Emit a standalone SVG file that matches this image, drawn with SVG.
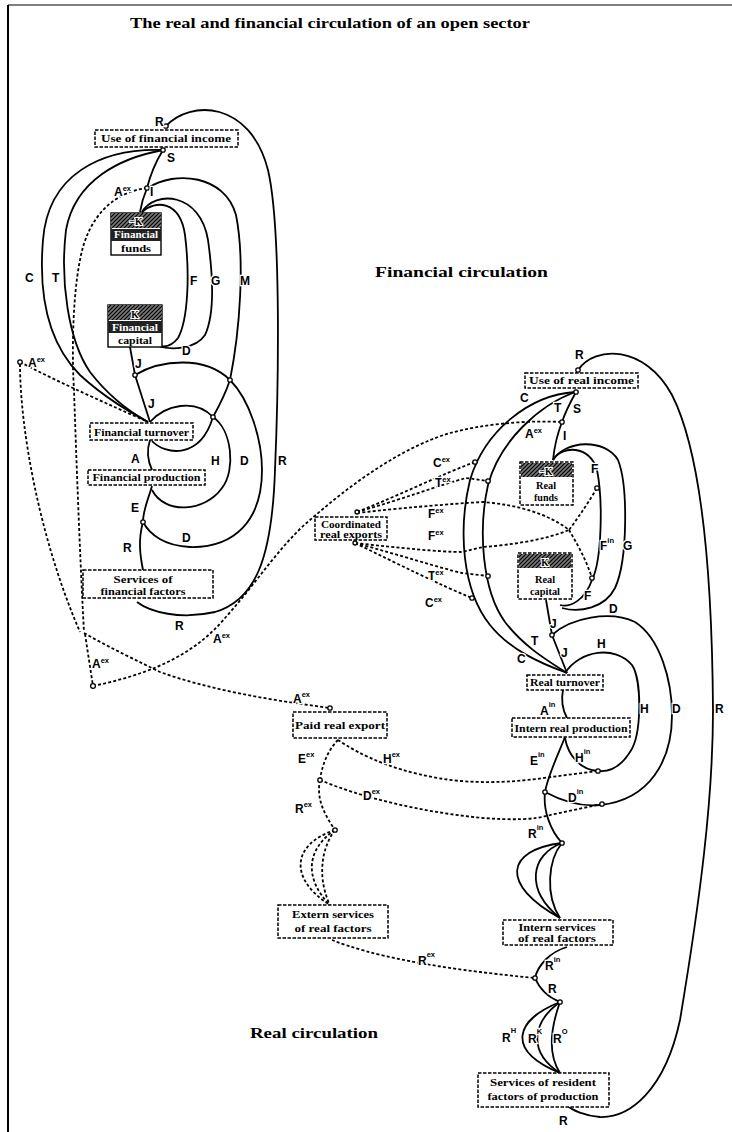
<svg xmlns="http://www.w3.org/2000/svg" width="732" height="1132" viewBox="0 0 732 1132">
<defs>
<pattern id="hatch" width="4" height="4" patternUnits="userSpaceOnUse">
<rect width="4" height="4" fill="#777"/>
<path d="M0,4 L4,0 M-1,1 L1,-1 M3,5 L5,3" stroke="#000" stroke-width="1.2"/>
</pattern>
<style>
.ln{fill:none;stroke:#000;stroke-width:1.8}
.dl{fill:none;stroke:#000;stroke-width:1.8;stroke-dasharray:3 2.2}
.box{fill:#fff;stroke:#000;stroke-width:1.5;stroke-dasharray:3.5 1.5}
.bt{font-family:"Liberation Serif",serif;font-weight:bold;font-size:9.5px;text-anchor:middle}
.wt{fill:#fff}
.lb{font-family:"Liberation Sans",sans-serif;font-weight:bold;font-size:12px;paint-order:stroke;stroke:#fff;stroke-width:2.5}
.sp{font-size:7.5px}
.jn{fill:#fff;stroke:#000;stroke-width:1.3}
.ttl{font-family:"Liberation Serif",serif;font-weight:bold}
</style>
</defs>
<rect width="732" height="1132" fill="#fff"/>
<!-- frame -->
<line x1="8" y1="5" x2="8" y2="1132" stroke="#000" stroke-width="2"/>
<line x1="8" y1="5" x2="732" y2="5" stroke="#000" stroke-width="1"/>
<!-- titles -->
<text class="ttl" x="130" y="28" font-size="15" textLength="400" lengthAdjust="spacingAndGlyphs">The real and financial circulation of an open sector</text>
<text class="ttl" x="375" y="277" font-size="14" textLength="173" lengthAdjust="spacingAndGlyphs">Financial circulation</text>
<text class="ttl" x="250" y="1038" font-size="15" textLength="128" lengthAdjust="spacingAndGlyphs">Real circulation</text>

<g id="connectors">
<!-- financial solid -->
<path class="ln" d="M166,126 C190,100 250,100 268,170 C282,230 278,400 275,470 C272,560 255,600 215,612 C180,620 150,612 137,602"/>
<path class="ln" d="M163,150 Q152,168 147,188 Q142,200 140,212"/>
<path class="ln" d="M163,150 C100,148 48,175 43,240 C38,300 50,345 80,375 C105,398 130,412 148,422"/>
<path class="ln" d="M163,150 C120,158 75,180 66,230 C60,280 68,340 90,372 C110,398 130,412 148,422"/>
<path class="ln" d="M148,188 C175,170 225,175 236,215 C245,260 240,330 230,380"/>
<path class="ln" d="M142,212 C155,190 200,192 208,240 C215,290 212,320 205,335 C195,350 170,350 158,346"/>
<path class="ln" d="M142,212 C155,200 180,200 185,235 C190,275 188,320 178,338 C172,346 165,347 160,346"/>
<path class="ln" d="M130,347 L135,375 L150,422"/>
<path class="ln" d="M135,375 C160,360 205,355 230,380"/>
<path class="ln" d="M230,380 C225,395 218,408 213,417"/>
<path class="ln" d="M150,422 C165,405 195,398 213,417"/>
<path class="ln" d="M152,441 C165,455 200,460 213,417"/>
<path class="ln" d="M213,417 C232,430 236,470 222,488 C205,512 165,515 152,490"/>
<path class="ln" d="M150,440 Q145,455 152,470"/>
<path class="ln" d="M152,486 C148,500 143,510 143,522"/>
<path class="ln" d="M143,522 C138,540 140,555 143,570"/>
<path class="ln" d="M230,380 C250,400 262,440 262,470 C262,520 235,548 190,547 C165,546 150,535 143,522"/>
<!-- financial dashed -->
<path class="dl" d="M147,188 C115,192 88,215 80,260 C72,300 72,360 74,390 C76,450 80,560 84,632"/>
<path class="dl" d="M20,362 C60,383 110,405 148,422"/>
<path class="dl" d="M20,364 C20,430 40,540 80,632"/>
<path class="dl" d="M84,633 C110,648 140,662 160,672 C210,690 270,700 330,708"/>
<path class="dl" d="M85,634 L93,686"/>
<path class="dl" d="M93,686 C140,676 190,660 225,618 C255,585 280,545 310,520 C350,485 400,448 450,433 C480,425 520,420 562,422"/>
<!-- real solid -->
<path class="ln" d="M578,370 C595,345 645,345 672,395 C700,450 712,560 713,710 C713,800 700,900 680,1020 C665,1090 630,1118 600,1117 C585,1116 572,1110 568,1106"/>
<path class="ln" d="M575,392 C530,395 485,430 470,480 C458,530 462,590 490,625 C510,650 540,663 567,673"/>
<path class="ln" d="M575,392 C540,405 500,440 488,485 C478,530 482,590 505,622 C525,648 550,662 567,673"/>
<path class="ln" d="M576,392 Q566,410 562,422 Q555,440 553,460"/>
<path class="ln" d="M553,460 C562,445 590,445 597,470 C603,500 602,560 592,580 C585,600 570,608 560,605"/>
<path class="ln" d="M553,460 C565,440 605,438 618,460 C628,485 628,560 615,588 C605,608 580,613 562,608"/>
<path class="ln" d="M546,600 L552,635 L567,673"/>
<path class="ln" d="M552,635 C570,618 610,610 635,622 C660,638 672,680 672,715 C672,760 650,800 600,805 C580,807 560,800 545,792"/>
<path class="ln" d="M565,673 C580,650 615,645 632,665 C642,680 642,735 630,752 C620,768 608,772 598,771"/>
<path class="ln" d="M598,771 C580,770 568,755 565,738"/>
<path class="ln" d="M563,690 Q560,705 567,718"/>
<path class="ln" d="M565,737 C558,755 548,775 545,792 C543,810 550,830 562,843"/>
<path class="ln" d="M562,843 C505,850 500,885 560,918"/>
<path class="ln" d="M562,843 C530,855 525,890 560,918"/>
<path class="ln" d="M562,843 C548,860 545,895 560,918"/>
<path class="ln" d="M567,947 C550,952 538,965 535,978"/>
<path class="ln" d="M535,978 C540,990 550,998 560,1002"/>
<path class="ln" d="M560,1002 C515,1020 505,1050 560,1073"/>
<path class="ln" d="M560,1002 C535,1020 525,1050 560,1073"/>
<path class="ln" d="M560,1002 C550,1030 548,1055 560,1073"/>
<!-- real dashed -->
<path class="dl" d="M357,512 C400,495 440,475 475,462"/>
<path class="dl" d="M357,512 C400,500 440,485 466,478 L488,481"/>
<path class="dl" d="M357,513 C400,508 440,505 466,503 L483,502 C520,505 550,515 569,530 C580,515 590,500 597,488"/>
<path class="dl" d="M569,530 C578,545 587,562 592,578"/>
<path class="dl" d="M355,543 C400,548 440,552 462,552 L483,547 C510,545 545,540 569,530"/>
<path class="dl" d="M355,543 C400,555 440,568 462,573 L488,576"/>
<path class="dl" d="M355,543 C400,565 440,585 472,598"/>
<path class="dl" d="M338,740 C328,750 322,765 320,780"/>
<path class="dl" d="M338,740 C360,755 400,775 460,781 C500,784 530,780 551,777 L598,771"/>
<path class="dl" d="M320,780 C360,797 420,812 483,818 C510,820 535,820 550,815 L602,804"/>
<path class="dl" d="M320,780 C316,800 325,815 335,830"/>
<path class="dl" d="M335,830 C290,845 290,880 330,905"/>
<path class="dl" d="M335,830 C305,850 305,880 330,905"/>
<path class="dl" d="M335,830 C320,850 318,880 330,905"/>
<path class="dl" d="M332,940 C370,955 430,968 535,978"/>
</g>

<g id="junctions">
<circle class="jn" cx="166" cy="126" r="2.2"/>
<circle class="jn" cx="163" cy="150" r="2.2"/>
<circle class="jn" cx="147" cy="188" r="2.2"/>
<circle class="jn" cx="135" cy="375" r="2.2"/>
<circle class="jn" cx="230" cy="380" r="2.2"/>
<circle class="jn" cx="213" cy="417" r="2.2"/>
<circle class="jn" cx="143" cy="522" r="2.2"/>
<circle class="jn" cx="20" cy="362" r="2.2"/>
<circle class="jn" cx="93" cy="686" r="2.4"/>
<circle class="jn" cx="578" cy="370" r="2.2"/>
<circle class="jn" cx="576" cy="392" r="2.2"/>
<circle class="jn" cx="562" cy="422" r="2.2"/>
<circle class="jn" cx="475" cy="462" r="2.2"/>
<circle class="jn" cx="488" cy="481" r="2.2"/>
<circle class="jn" cx="597" cy="488" r="2.2"/>
<circle class="jn" cx="592" cy="578" r="2.2"/>
<circle class="jn" cx="488" cy="576" r="2.2"/>
<circle class="jn" cx="472" cy="598" r="2.2"/>
<circle class="jn" cx="552" cy="635" r="2.2"/>
<circle class="jn" cx="598" cy="771" r="2.2"/>
<circle class="jn" cx="602" cy="804" r="2.2"/>
<circle class="jn" cx="545" cy="792" r="2.2"/>
<circle class="jn" cx="562" cy="843" r="2.2"/>
<circle class="jn" cx="535" cy="978" r="2.2"/>
<circle class="jn" cx="560" cy="1002" r="2.2"/>
<circle class="jn" cx="330" cy="708" r="2.2"/>
<circle class="jn" cx="320" cy="780" r="2.2"/>
<circle class="jn" cx="335" cy="830" r="2.2"/>
<circle class="jn" cx="357" cy="512" r="2"/>
<circle class="jn" cx="355" cy="543" r="2"/>
</g>

<!-- financial nodes -->
<g id="fin-use">
<rect class="box" x="95" y="130" width="143" height="17"/>
<text class="bt" x="166" y="142" textLength="130" lengthAdjust="spacingAndGlyphs">Use of financial income</text>
</g>
<g id="fin-funds">
<rect x="111" y="213" width="50" height="42" fill="#fff" stroke="#000" stroke-width="1.4"/>
<rect x="111" y="213" width="50" height="15" fill="url(#hatch)"/>
<rect x="111" y="229" width="50" height="12" fill="#222"/>
<text class="bt" x="136" y="225" font-size="11" style="paint-order:stroke;stroke:#fff;stroke-width:2">−K</text>
<text class="bt wt" x="136" y="238" textLength="44" lengthAdjust="spacingAndGlyphs">Financial</text>
<text class="bt" x="136" y="252" textLength="30" lengthAdjust="spacingAndGlyphs">funds</text>
</g>
<g id="fin-capital">
<rect x="108" y="305" width="54" height="42" fill="#fff" stroke="#000" stroke-width="1.4"/>
<rect x="108" y="305" width="54" height="15" fill="url(#hatch)"/>
<rect x="108" y="321" width="54" height="12" fill="#222"/>
<text class="bt" x="135" y="318" font-size="11" style="paint-order:stroke;stroke:#fff;stroke-width:2">K</text>
<text class="bt wt" x="135" y="331" textLength="46" lengthAdjust="spacingAndGlyphs">Financial</text>
<text class="bt" x="135" y="344" textLength="34" lengthAdjust="spacingAndGlyphs">capital</text>
</g>
<g id="fin-turnover">
<rect class="box" x="90" y="423" width="103" height="17"/>
<text class="bt" x="141.5" y="436" textLength="95" lengthAdjust="spacingAndGlyphs">Financial turnover</text>
</g>
<g id="fin-production">
<rect class="box" x="88" y="470" width="117" height="15"/>
<text class="bt" x="146.5" y="481" textLength="108" lengthAdjust="spacingAndGlyphs">Financial production</text>
</g>
<g id="fin-services">
<rect class="box" x="83" y="570" width="130" height="28"/>
<text class="bt" x="143" y="583" textLength="59" lengthAdjust="spacingAndGlyphs">Services of</text>
<text class="bt" x="143" y="595" textLength="85" lengthAdjust="spacingAndGlyphs">financial factors</text>
</g>

<!-- real nodes -->
<g id="real-use">
<rect class="box" x="525" y="373" width="113" height="15"/>
<text class="bt" x="581.5" y="384" textLength="105" lengthAdjust="spacingAndGlyphs">Use of real income</text>
</g>
<g id="real-funds">
<rect class="box" x="520" y="462" width="53" height="43"/>
<rect x="521" y="463" width="51" height="14" fill="url(#hatch)"/>
<text class="bt" x="546" y="475" font-size="11" style="paint-order:stroke;stroke:#fff;stroke-width:2">−K</text>
<text class="bt" x="546" y="489" textLength="20" lengthAdjust="spacingAndGlyphs">Real</text>
<text class="bt" x="546" y="501" textLength="24" lengthAdjust="spacingAndGlyphs">funds</text>
</g>
<g id="real-capital">
<rect class="box" x="518" y="553" width="54" height="46"/>
<rect x="519" y="554" width="52" height="14" fill="url(#hatch)"/>
<text class="bt" x="545" y="566" font-size="11" style="paint-order:stroke;stroke:#fff;stroke-width:2">K</text>
<text class="bt" x="545" y="583" textLength="20" lengthAdjust="spacingAndGlyphs">Real</text>
<text class="bt" x="545" y="595" textLength="30" lengthAdjust="spacingAndGlyphs">capital</text>
</g>
<g id="coord-exports">
<rect class="box" x="315" y="517" width="72" height="23"/>
<text class="bt" x="351" y="528" textLength="60" lengthAdjust="spacingAndGlyphs">Coordinated</text>
<text class="bt" x="351" y="538" textLength="62" lengthAdjust="spacingAndGlyphs">real exports</text>
</g>
<g id="real-turnover">
<rect class="box" x="527" y="675" width="76" height="15"/>
<text class="bt" x="565" y="686" textLength="70" lengthAdjust="spacingAndGlyphs">Real turnover</text>
</g>
<g id="intern-production">
<rect class="box" x="512" y="718" width="118" height="19"/>
<text class="bt" x="571" y="732" textLength="113" lengthAdjust="spacingAndGlyphs">Intern real production</text>
</g>
<g id="paid-export">
<rect class="box" x="293" y="712" width="94" height="26"/>
<text class="bt" x="340" y="729" textLength="90" lengthAdjust="spacingAndGlyphs">Paid real export</text>
</g>
<g id="extern-services">
<rect class="box" x="278" y="905" width="110" height="33"/>
<text class="bt" x="333" y="918" textLength="82" lengthAdjust="spacingAndGlyphs">Extern services</text>
<text class="bt" x="333" y="932" textLength="77" lengthAdjust="spacingAndGlyphs">of real factors</text>
</g>
<g id="intern-services">
<rect class="box" x="503" y="920" width="110" height="25"/>
<text class="bt" x="557" y="931" textLength="77" lengthAdjust="spacingAndGlyphs">Intern services</text>
<text class="bt" x="557" y="942" textLength="78" lengthAdjust="spacingAndGlyphs">of real factors</text>
</g>
<g id="resident-services">
<rect class="box" x="478" y="1073" width="131" height="34"/>
<text class="bt" x="543" y="1086" textLength="106" lengthAdjust="spacingAndGlyphs">Services of resident</text>
<text class="bt" x="543" y="1100" textLength="111" lengthAdjust="spacingAndGlyphs">factors of production</text>
</g>

<g id="labels">
<!-- financial -->
<text class="lb" x="155" y="126">R</text>
<text class="lb" x="167" y="162">S</text>
<text class="lb" x="114" y="196">A<tspan class="sp" dy="-5">ex</tspan></text>
<text class="lb" x="150" y="196">I</text>
<text class="lb" x="25" y="282">C</text>
<text class="lb" x="52" y="282">T</text>
<text class="lb" x="190" y="285">F</text>
<text class="lb" x="211" y="285">G</text>
<text class="lb" x="240" y="285">M</text>
<text class="lb" x="182" y="355">D</text>
<text class="lb" x="135" y="368">J</text>
<text class="lb" x="148" y="408">J</text>
<text class="lb" x="131" y="463">A</text>
<text class="lb" x="211" y="465">H</text>
<text class="lb" x="240" y="465">D</text>
<text class="lb" x="278" y="465">R</text>
<text class="lb" x="131" y="512">E</text>
<text class="lb" x="182" y="542">D</text>
<text class="lb" x="123" y="552">R</text>
<text class="lb" x="175" y="630">R</text>
<text class="lb" x="28" y="367">A<tspan class="sp" dy="-5">ex</tspan></text>
<text class="lb" x="92" y="668">A<tspan class="sp" dy="-5">ex</tspan></text>
<text class="lb" x="213" y="643">A<tspan class="sp" dy="-5">ex</tspan></text>
<!-- real -->
<text class="lb" x="575" y="359">R</text>
<text class="lb" x="520" y="402">C</text>
<text class="lb" x="554" y="412">T</text>
<text class="lb" x="573" y="413">S</text>
<text class="lb" x="525" y="438">A<tspan class="sp" dy="-5">ex</tspan></text>
<text class="lb" x="563" y="440">I</text>
<text class="lb" x="591" y="473">F</text>
<text class="lb" x="600" y="550">F<tspan class="sp" dy="-7">in</tspan></text>
<text class="lb" x="623" y="550">G</text>
<text class="lb" x="584" y="600">F</text>
<text class="lb" x="609" y="613">D</text>
<text class="lb" x="550" y="628">J</text>
<text class="lb" x="531" y="645">T</text>
<text class="lb" x="517" y="663">C</text>
<text class="lb" x="561" y="657">J</text>
<text class="lb" x="597" y="648">H</text>
<text class="lb" x="640" y="713">H</text>
<text class="lb" x="672" y="713">D</text>
<text class="lb" x="715" y="713">R</text>
<text class="lb" x="540" y="715">A<tspan class="sp" dy="-8">in</tspan></text>
<text class="lb" x="530" y="765">E<tspan class="sp" dy="-8">in</tspan></text>
<text class="lb" x="575" y="762">H<tspan class="sp" dy="-8">in</tspan></text>
<text class="lb" x="568" y="802">D<tspan class="sp" dy="-8">in</tspan></text>
<text class="lb" x="528" y="838">R<tspan class="sp" dy="-8">in</tspan></text>
<text class="lb" x="293" y="703">A<tspan class="sp" dy="-6">ex</tspan></text>
<text class="lb" x="298" y="763">E<tspan class="sp" dy="-6">ex</tspan></text>
<text class="lb" x="383" y="763">H<tspan class="sp" dy="-6">ex</tspan></text>
<text class="lb" x="363" y="800">D<tspan class="sp" dy="-6">ex</tspan></text>
<text class="lb" x="295" y="813">R<tspan class="sp" dy="-6">ex</tspan></text>
<text class="lb" x="418" y="965">R<tspan class="sp" dy="-8">ex</tspan></text>
<text class="lb" x="545" y="970">R<tspan class="sp" dy="-8">in</tspan></text>
<text class="lb" x="548" y="993">R</text>
<text class="lb" x="502" y="1042">R<tspan class="sp" dy="-9">H</tspan></text>
<text class="lb" x="528" y="1043">R<tspan class="sp" dy="-9">K</tspan></text>
<text class="lb" x="553" y="1043">R<tspan class="sp" dy="-9">O</tspan></text>
<text class="lb" x="559" y="1125">R</text>
<text class="lb" x="433" y="467">C<tspan class="sp" dy="-5">ex</tspan></text>
<text class="lb" x="435" y="487">T<tspan class="sp" dy="-5">ex</tspan></text>
<text class="lb" x="428" y="518">F<tspan class="sp" dy="-5">ex</tspan></text>
<text class="lb" x="428" y="540">F<tspan class="sp" dy="-5">ex</tspan></text>
<text class="lb" x="428" y="580">T<tspan class="sp" dy="-5">ex</tspan></text>
<text class="lb" x="425" y="607">C<tspan class="sp" dy="-5">ex</tspan></text>
</g>
</svg>
